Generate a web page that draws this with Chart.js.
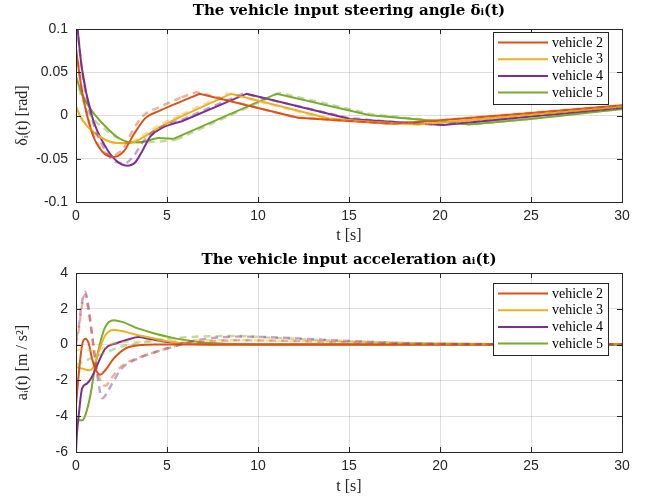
<!DOCTYPE html>
<html><head><meta charset="utf-8">
<script src="https://cdn.jsdelivr.net/npm/chart.js@4.4.0/dist/chart.umd.min.js"></script>
<style>
html,body{margin:0;padding:0;background:#fff;width:645px;height:501px;overflow:hidden}
canvas{position:absolute;left:0}
</style></head><body>
<canvas id="c1" width="645" height="250" style="top:0px"></canvas>
<canvas id="c2" width="645" height="251" style="top:250px"></canvas>
<script>
// ---------- DATA ----------
const vehicleLabels = ['vehicle 2', 'vehicle 3', 'vehicle 4', 'vehicle 5'];
const xTicks = [0, 5, 10, 15, 20, 25, 30];
const steerTicks = [-0.1, -0.05, 0, 0.05, 0.1];
const accTicks = [-6, -4, -2, 0, 2, 4];

// steering angle, solid
const tS2 = [0, 0.33, 0.88, 1.43, 2.07, 2.62, 3.17, 3.81, 4.54, 5.82, 6.8, 12.2, 15, 17.4, 20, 25, 30];
const s2  = [0.077, 0.028, -0.020, -0.0415, -0.048, -0.0415, -0.022, -0.003, 0.005, 0.0167, 0.0252, -0.0027, -0.0065, -0.0095, -0.0055, 0.003, 0.0118];
const tS3 = [0, 0.33, 0.88, 1.61, 2.34, 2.99, 3.63, 4.54, 5.82, 8.52, 13.9, 16, 18.8, 25, 30];
const s3  = [0.010, -0.0047, -0.018, -0.028, -0.0318, -0.0318, -0.026, -0.0143, -0.0008, 0.0252, -0.0035, -0.007, -0.0105, 0.001, 0.0105];
const tS4 = [0, 0.33, 0.88, 1.61, 2.25, 2.8, 3.26, 3.63, 4.09, 4.73, 5.82, 9.38, 15.05, 17.5, 20.2, 25, 30];
const s4  = [0.118, 0.0535, -0.0008, -0.0357, -0.053, -0.058, -0.054, -0.0415, -0.024, -0.0143, -0.0066, 0.0252, -0.004, -0.0075, -0.011, -0.0012, 0.009];
const tS5 = [0, 0.33, 0.88, 1.61, 2.34, 3.08, 3.81, 4.54, 5.35, 11.03, 16.15, 19, 21.6, 25, 30];
const s5  = [0.045, 0.0244, 0.005, -0.0124, -0.026, -0.031, -0.030, -0.026, -0.027, 0.0252, 0.0004, -0.005, -0.0105, -0.004, 0.0075];
// steering angle, dashed
const tSd2 = [0, 0.33, 0.88, 1.43, 2.0, 2.6, 3.1, 3.7, 4.5, 5.8, 6.6, 12.0, 15, 17.4, 20, 30];
const sd2  = [0.077, 0.030, -0.018, -0.040, -0.046, -0.038, -0.018, 0.0, 0.009, 0.021, 0.027, -0.002, -0.0065, -0.0095, -0.0055, 0.0118];
const tSd3 = [0, 0.33, 0.88, 1.6, 2.3, 3.0, 3.6, 4.5, 5.8, 8.3, 13.6, 16, 18.6, 30];
const sd3  = [0.010, -0.004, -0.017, -0.028, -0.032, -0.031, -0.024, -0.012, 0.001, 0.0255, -0.003, -0.007, -0.0105, 0.0105];
const tSd4 = [0, 0.33, 0.88, 1.6, 2.2, 2.7, 3.2, 3.7, 4.3, 5.0, 5.8, 9.2, 15, 17.5, 20, 30];
const sd4  = [0.118, 0.052, -0.004, -0.040, -0.054, -0.055, -0.046, -0.030, -0.018, -0.011, -0.005, 0.0255, -0.003, -0.0075, -0.011, 0.009];
const tSd5 = [0, 0.33, 0.88, 1.6, 2.3, 3.0, 3.8, 4.6, 5.5, 11.2, 16.3, 19.2, 21.8, 30];
const sd5  = [0.045, 0.020, -0.002, -0.016, -0.026, -0.031, -0.031, -0.030, -0.028, 0.0262, 0.0012, -0.005, -0.0105, 0.0075];
// index where each steering curve turns into straight segments
const steerKink = [9, 8, 10, 8];
const steerKinkDashed = [9, 8, 10, 8];

// acceleration, solid
const tA2 = [0, 0.18, 0.33, 0.51, 0.7, 0.88, 1.15, 1.34, 1.61, 2.07, 2.71, 3.44, 4.4, 6, 10, 30];
const a2  = [-3.39, -1.34, -0.04, 0.33, 0.06, -0.78, -1.53, -1.68, -1.43, -0.78, -0.22, -0.04, 0, 0, 0, 0];
const tA3 = [0, 0.33, 0.7, 0.97, 1.24, 1.61, 2.07, 2.71, 3.44, 4.36, 5.27, 5.82, 7, 10, 30];
const a3  = [-1.25, -1.34, -1.43, -1.25, -0.41, 0.52, 0.82, 0.71, 0.52, 0.33, 0.15, 0.06, 0.01, 0, 0];
const tA4 = [0, 0.05, 0.15, 0.33, 0.6, 0.88, 1.24, 1.61, 2.16, 2.9, 3.44, 3.98, 4.73, 5.5, 7, 10, 30];
const a4  = [-6.0, -5.0, -3.95, -2.46, -2.18, -1.8, -0.97, -0.22, 0.06, 0.3, 0.43, 0.33, 0.19, 0.1, 0.02, 0, 0];
const tA5 = [0, 0.33, 0.51, 0.79, 1.06, 1.34, 1.61, 2.07, 2.53, 3.44, 4.36, 5.27, 5.82, 7, 9, 12, 30];
const a5  = [-4.23, -4.23, -3.95, -2.83, -1.15, 0.15, 0.99, 1.36, 1.27, 0.89, 0.61, 0.39, 0.28, 0.12, 0.03, 0, 0];
// acceleration, dashed
const tAd2 = [0, 0.15, 0.3, 0.5, 0.7, 0.95, 1.15, 1.4, 1.6, 2.0, 2.5, 3.4, 4.4, 5.3, 6, 7, 9, 12, 15, 20, 30];
const ad2  = [0, 0.8, 2.0, 2.8, 1.8, 0, -1.4, -2.1, -2.3, -1.8, -1.2, -0.75, -0.4, -0.12, 0.06, 0.16, 0.24, 0.2, 0.12, 0.04, 0.01];
const tAd3 = [0, 0.5, 1.0, 1.5, 2, 3, 5, 8, 12, 16, 20, 30];
const ad3  = [-0.3, -0.25, -0.4, -0.2, 0.05, 0.15, 0.2, 0.25, 0.2, 0.12, 0.05, 0.01];
const tAd4 = [0, 0.15, 0.3, 0.5, 0.7, 0.95, 1.15, 1.45, 1.7, 2.0, 2.5, 3.4, 4.4, 5.3, 6, 7, 9, 11, 14, 17, 20, 30];
const ad4  = [0.3, 1.0, 2.2, 2.95, 2.0, 0, -1.6, -3.0, -2.7, -2.15, -1.35, -0.78, -0.4, -0.13, 0.1, 0.3, 0.45, 0.4, 0.25, 0.12, 0.05, 0.01];
const tAd5 = [0, 0.77, 1.5, 2.42, 3.33, 5.16, 7, 8.8, 10.7, 15, 20, 30];
const ad5  = [-1.15, -0.78, -0.5, -0.13, 0.06, 0.34, 0.46, 0.48, 0.39, 0.19, 0.06, 0.01];

// ---------- STYLE ----------
const colors = ['#D95319', '#EDB120', '#7E2F8E', '#77AC30'];
const fadedColors = ['rgba(217,83,25,0.45)', 'rgba(237,177,32,0.45)', 'rgba(126,47,142,0.45)', 'rgba(119,172,48,0.45)'];
const axisColor = '#262626';
const serif = "'Liberation Serif', 'Times New Roman', serif";
const titleSerif = "'DejaVu Serif', serif";
const sans = "'Liberation Sans', Arial, Helvetica, sans-serif";

const pts = (t, v) => t.map((x, i) => ({x: x, y: v[i]}));

function lineDs(i, t, v, isSolid, legend, straight) {
  const ds = {label: legend ? vehicleLabels[i] : '', inLegend: legend, data: pts(t, v),
    borderColor: isSolid ? colors[i] : fadedColors[i],
    borderWidth: isSolid ? 2 : 2.4, pointRadius: 0, fill: false};
  if (!isSolid) ds.borderDash = [7, 5];
  if (straight) ds.tension = 0; else ds.cubicInterpolationMode = 'monotone';
  return ds;
}
// smooth start + straight later segments (sharp corners at the peaks)
function splitDs(i, t, v, k, isSolid) {
  return [
    lineDs(i, t.slice(0, k + 1), v.slice(0, k + 1), isSolid, isSolid, false),
    lineDs(i, t.slice(k), v.slice(k), isSolid, false, true)
  ];
}

const matlabBox = {
  id: 'matlabBox',
  afterDatasetsDraw(chart) {
    const ctx = chart.ctx, a = chart.chartArea;
    const xs = chart.scales.x, ys = chart.scales.y;
    const L = 5;
    ctx.save();
    ctx.strokeStyle = axisColor; ctx.lineWidth = 1;
    ctx.beginPath();
    xs.ticks.forEach(tk => {
      const px = Math.round(xs.getPixelForValue(tk.value)) + 0.5;
      ctx.moveTo(px, a.bottom); ctx.lineTo(px, a.bottom - L);
      ctx.moveTo(px, a.top); ctx.lineTo(px, a.top + L);
    });
    ys.ticks.forEach(tk => {
      const py = Math.round(ys.getPixelForValue(tk.value)) + 0.5;
      ctx.moveTo(a.left, py); ctx.lineTo(a.left + L, py);
      ctx.moveTo(a.right, py); ctx.lineTo(a.right - L, py);
    });
    ctx.stroke();
    ctx.strokeRect(Math.round(a.left) + 0.5, Math.round(a.top) + 0.5,
                   Math.round(a.right - a.left), Math.round(a.bottom - a.top));
    ctx.restore();
  }
};

const legendBox = {
  id: 'legendBox',
  afterDraw(chart, args, o) {
    const ctx = chart.ctx;
    const items = chart.data.datasets.filter(d => d.inLegend);
    ctx.save();
    ctx.fillStyle = '#fff';
    ctx.fillRect(o.left, o.top, o.width, o.height);
    ctx.strokeStyle = axisColor; ctx.lineWidth = 1;
    ctx.strokeRect(o.left + 0.5, o.top + 0.5, o.width, o.height);
    ctx.font = '14px ' + serif;
    ctx.textBaseline = 'middle';
    ctx.textAlign = 'left';
    items.forEach((d, i) => {
      const y = o.top + o.first + i * o.row;
      ctx.strokeStyle = d.borderColor; ctx.lineWidth = 2;
      ctx.beginPath(); ctx.moveTo(o.left + 5, y); ctx.lineTo(o.left + 55, y); ctx.stroke();
      ctx.fillStyle = '#000';
      ctx.fillText(d.label, o.left + 59, y + 0.5);
    });
    ctx.restore();
  }
};

function makeOptions(cfg) {
  return {
    responsive: false, animation: false, devicePixelRatio: 1,
    layout: {padding: {left: 0, right: 23, top: 0, bottom: cfg.padBottom}},
    plugins: {
      legend: {display: false}, tooltip: {enabled: false},
      title: {display: true, text: cfg.title, fullSize: false, color: '#000',
        font: {family: titleSerif, size: 15, weight: 'bold', lineHeight: 1.2},
        padding: cfg.titlePad},
      legendBox: cfg.legend
    },
    scales: {
      x: {type: 'linear', min: 0, max: 30,
        afterBuildTicks: s => { s.ticks = xTicks.map(v => ({value: v})); },
        afterFit: s => { s.height = cfg.xHeight; },
        grid: {color: 'rgba(38,38,38,0.15)', drawTicks: false},
        border: {display: false},
        ticks: {color: axisColor, padding: 6, font: {family: sans, size: 14}, maxRotation: 0,
          callback: v => String(v)},
        title: {display: true, text: 't [s]', color: axisColor,
          font: {family: serif, size: 16}, padding: {top: 0, bottom: 1}}
      },
      y: {type: 'linear', min: cfg.yTicks[0], max: cfg.yTicks[cfg.yTicks.length - 1],
        afterBuildTicks: s => { s.ticks = cfg.yTicks.map(v => ({value: v})); },
        afterFit: s => { s.width = 76; },
        grid: {color: 'rgba(38,38,38,0.15)', drawTicks: false},
        border: {display: false},
        ticks: {color: axisColor, padding: 8, font: {family: sans, size: 14},
          callback: v => String(Number(v.toFixed(2)))},
        title: {display: true, text: cfg.yTitle, color: axisColor,
          font: {family: serif, size: 16}, padding: {top: 13, bottom: 0}}
      }
    }
  };
}

new Chart(document.getElementById('c1'), {
  type: 'line',
  data: {datasets: [
    ...splitDs(0, tSd2, sd2, steerKinkDashed[0], false),
    ...splitDs(1, tSd3, sd3, steerKinkDashed[1], false),
    ...splitDs(2, tSd4, sd4, steerKinkDashed[2], false),
    ...splitDs(3, tSd5, sd5, steerKinkDashed[3], false),
    ...splitDs(0, tS2, s2, steerKink[0], true),
    ...splitDs(1, tS3, s3, steerKink[1], true),
    ...splitDs(2, tS4, s4, steerKink[2], true),
    ...splitDs(3, tS5, s5, steerKink[3], true)
  ]},
  options: makeOptions({
    title: 'The vehicle input steering angle δᵢ(t)',
    titlePad: {top: 2, bottom: 9}, padBottom: 4, xHeight: 44,
    yTicks: steerTicks, yTitle: 'δᵢ(t) [rad]',
    legend: {left: 493, top: 32, width: 115, height: 72, first: 10.5, row: 16.7}
  }),
  plugins: [matlabBox, legendBox]
});

new Chart(document.getElementById('c2'), {
  type: 'line',
  data: {datasets: [
    lineDs(0, tAd2, ad2, false, false, false), lineDs(1, tAd3, ad3, false, false, false),
    lineDs(2, tAd4, ad4, false, false, false), lineDs(3, tAd5, ad5, false, false, false),
    lineDs(0, tA2, a2, true, true, false), lineDs(1, tA3, a3, true, true, false),
    lineDs(2, tA4, a4, true, true, false), lineDs(3, tA5, a5, true, true, false)
  ]},
  options: makeOptions({
    title: 'The vehicle input acceleration aᵢ(t)',
    titlePad: {top: 1, bottom: 4}, padBottom: 4, xHeight: 45,
    yTicks: accTicks, yTitle: 'aᵢ(t) [m / s²]',
    legend: {left: 493, top: 33, width: 115, height: 72, first: 10.5, row: 16.7}
  }),
  plugins: [matlabBox, legendBox]
});
</script>
</body></html>
